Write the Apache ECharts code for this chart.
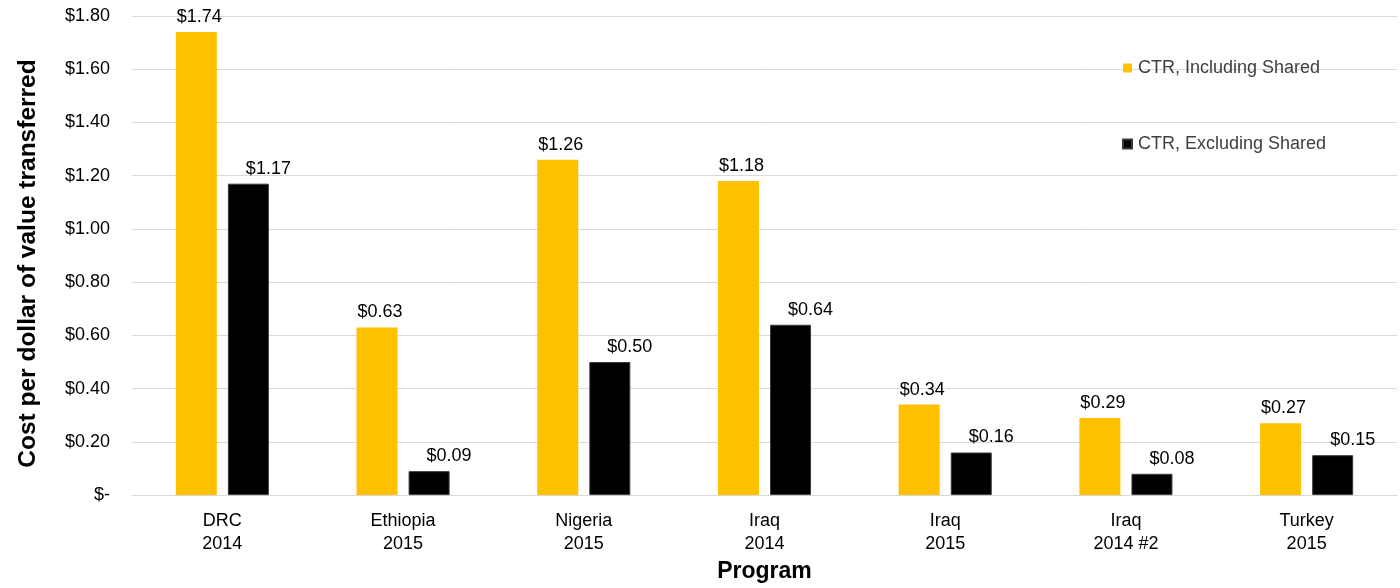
<!DOCTYPE html>
<html>
<head>
<meta charset="utf-8">
<script src="https://cdn.jsdelivr.net/npm/echarts@6/dist/echarts.min.js"></script>
<style>html,body{margin:0;padding:0;background:#fff;overflow:hidden}#c{width:1400px;height:588px}</style>
</head>
<body>
<div id="c"></div>
<script>
const categories = ['DRC\n2014', 'Ethiopia\n2015', 'Nigeria\n2015', 'Iraq\n2014', 'Iraq\n2015', 'Iraq\n2014 #2', 'Turkey\n2015'];
const includingShared = [1.74, 0.63, 1.26, 1.18, 0.34, 0.29, 0.27];
const excludingShared = [1.17, 0.09, 0.50, 0.64, 0.16, 0.08, 0.15];
const seriesNames = ['CTR, Including Shared', 'CTR, Excluding Shared'];

const FONT = '"Liberation Sans", Arial, sans-serif';
const chart = echarts.init(document.getElementById('c'), null, {renderer: 'canvas', width: 1400, height: 588});
function money(v) { return v === 0 ? '$-' : '$' + v.toFixed(2); }
chart.setOption({
  animation: false,
  textStyle: {fontFamily: FONT},
  grid: {left: 132, width: 1265, top: 16, height: 486, containLabel: false},
  legend: {
    orient: 'vertical', left: 1117, top: 54, itemGap: 58, padding: 5,
    itemWidth: 9, itemHeight: 9, icon: 'rect',
    textStyle: {fontFamily: FONT, fontSize: 18, color: '#404040', lineHeight: 18, padding: [0,0,0,1]},
    data: seriesNames
  },
  xAxis: {
    type: 'category', data: categories,
    name: 'Program', nameLocation: 'middle', nameGap: 61,
    nameTextStyle: {fontFamily: FONT, fontSize: 23, fontWeight: 'bold', color: '#000'},
    axisLine: {show: true, lineStyle: {color: '#d9d9d9', width: 1}},
    axisTick: {show: false},
    axisLabel: {fontFamily: FONT, fontSize: 18, color: '#000', lineHeight: 23, margin: 14}
  },
  yAxis: {
    type: 'value', min: 0, max: 1.8, interval: 0.2,
    name: 'Cost per dollar of value transferred', nameLocation: 'middle', nameGap: 91,
    nameTextStyle: {fontFamily: FONT, fontSize: 24.5, fontWeight: 'bold', color: '#000', padding: [0, 16, 0, 0]},
    axisLine: {show: false}, axisTick: {show: false},
    splitLine: {lineStyle: {color: '#d9d9d9', width: 1}},
    axisLabel: {fontFamily: FONT, fontSize: 18, color: '#000', margin: 22, formatter: money}
  },
  series: [
    {
      name: seriesNames[0], type: 'bar', data: includingShared,
      barWidth: 41, barGap: '27%',
      itemStyle: {color: '#FFC000'},
      label: {show: true, position: 'top', distance: 6, offset: [3, 0], fontFamily: FONT, fontSize: 18, color: '#000', formatter: p => money(p.value)}
    },
    {
      name: seriesNames[1], type: 'bar', data: excludingShared,
      barWidth: 41, barGap: '27%',
      itemStyle: {color: '#000000', borderColor: '#3a3a3a', borderWidth: 1},
      label: {show: true, position: 'top', distance: 6, offset: [20, 0], fontFamily: FONT, fontSize: 18, color: '#000', formatter: p => money(p.value)}
    }
  ]
});
</script>
</body>
</html>
